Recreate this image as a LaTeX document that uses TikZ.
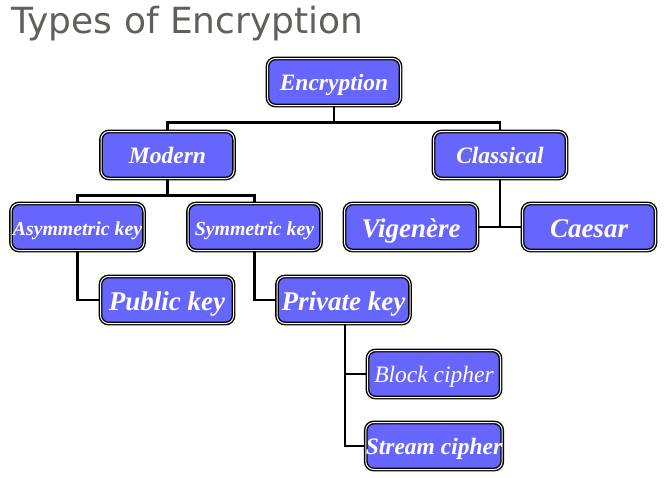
\documentclass[tikz,border=0pt]{standalone}
\usepackage{fontspec}
\setmainfont{Liberation Serif}
\newfontfamily\titlefont{DejaVu Sans}
\usetikzlibrary{positioning,calc}
\definecolor{boxblue}{RGB}{102,102,255}
\definecolor{titlegray}{RGB}{98,94,92}
\begin{document}
\begin{tikzpicture}
[x=1pt,y=-1pt,
box/.style={shape=rectangle,rounded corners=8pt,fill=boxblue,draw=black,
  double=white,line width=1.4pt,double distance=1pt,
  minimum width=133pt,minimum height=47pt,inner sep=0pt,
  text height=17.4pt,text depth=0pt,
  text=white,font=\bfseries\itshape\fontsize{23.5}{28}\selectfont},
bigbox/.style={box,text height=20pt,font=\bfseries\itshape\fontsize{27}{32}\selectfont},
smallbox/.style={box,text height=16pt,font=\bfseries\itshape\fontsize{19.8}{23}\selectfont},
myedge/.style={line width=2.6pt,black}]
\useasboundingbox (0,0) rectangle (667,477);
%%%%% title
\node (title) [anchor=base west,inner sep=0pt,text=titlegray,
  font=\titlefont\fontsize{36}{40}\selectfont] at (11,33) {Types of Encryption};
%% boxes
\node (enc) [box] at (334,82) {Encryption};
\node (mod) [box] at (167.5,155) {Modern};
\node (cla) [box] at (500,155) {Classical};
\node (asy) [smallbox] at (77.5,227) {Asymmetric key};
\node (sym) [smallbox] at (254.5,227) {Symmetric key};
\node (vig) [bigbox] at (411,227) {Vigenère};
\node (cae) [bigbox] at (589,227) {Caesar};
\node (pub) [bigbox] at (167,300) {Public key};
\node (pri) [bigbox] at (343.5,300) {Private key};
\node (blk) [box,font=\itshape\fontsize{23.5}{28}\selectfont] at (434,374) {Block cipher};
\node (str) [box] at (434,446) {Stream cipher};
%% edges
\draw[myedge] (enc.south) -- ++(0,16) -| (mod.north);
\draw[myedge] (enc.south) -- ++(0,16) -| (cla.north);
\draw[myedge] (mod.south) -- ++(0,16) -| (asy.north);
\draw[myedge] (mod.south) -- ++(0,16) -| (sym.north);
\draw[myedge] (cla.south) |- (vig.east);
\draw[myedge] (cla.south) |- (cae.west);
\draw[myedge] (asy.south) |- (pub.west);
\draw[myedge] (sym.south) |- (pri.west);
\draw[myedge] ([xshift=1.5pt]pri.south) |- (blk.west);
\draw[myedge] ([xshift=1.5pt]pri.south) |- (str.west);
\end{tikzpicture}
\end{document}
